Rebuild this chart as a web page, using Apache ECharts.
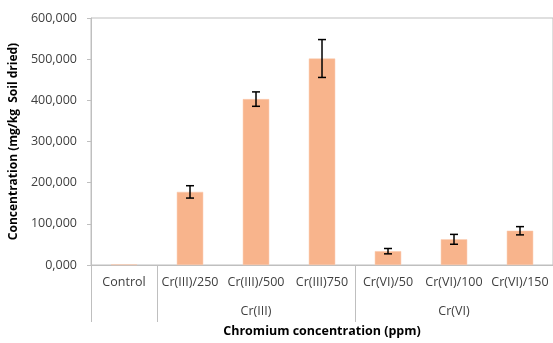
<!DOCTYPE html>
<html>
<head>
<meta charset="utf-8">
<script src="https://cdn.jsdelivr.net/npm/echarts@6/dist/echarts.min.js"></script>
<style>
  html, body { margin: 0; padding: 0; background: #fff; }
  #main { width: 553px; height: 343px; }
</style>
</head>
<body>
<div id="main"></div>
<script>
// 数据
var categories = ['Control', 'Cr(III)/250', 'Cr(III)/500', 'Cr(III)750', 'Cr(VI)/50', 'Cr(VI)/100', 'Cr(VI)/150'];
var groupLabels = ['', '', 'Cr(III)', '', '', 'Cr(VI)', ''];
var groupStarts = [0, 1, 4];
var values = [1500, 177600, 403000, 501600, 33600, 62400, 83200];
var errors = [0, 15000, 17500, 46000, 6500, 12000, 10000];
var yTicks = [0, 100000, 200000, 300000, 400000, 500000, 600000];

var font = '"Open Sans", sans-serif';
var textColor = '#404040';
var lineColor = '#bfbfbf';

var chart = echarts.init(document.getElementById('main'));

var errData = values.map(function (v, i) { return [i, v - errors[i], v + errors[i]]; });

var option = {
  animation: false,
  grid: {
    left: 91, right: -3, top: 18, bottom: 75,
    show: true, borderColor: lineColor, borderWidth: 1
  },
  xAxis: [
    {
      type: 'category',
      data: categories,
      name: 'Chromium concentration (ppm)',
      nameLocation: 'middle',
      nameGap: 60,
      nameTextStyle: { fontFamily: font, fontWeight: 'bold', fontSize: 12.5, color: '#000' },
      axisLine: { lineStyle: { color: lineColor } },
      axisTick: {
        show: true, length: 57,
        interval: function (idx) { return groupStarts.indexOf(idx) >= 0; },
        lineStyle: { color: lineColor }
      },
      axisLabel: { interval: 0, margin: 11, fontFamily: font, fontSize: 12.5, color: textColor }
    },
    {
      type: 'category',
      data: groupLabels,
      position: 'bottom',
      offset: 29,
      axisLine: { show: false },
      axisTick: { show: false },
      axisLabel: { interval: 0, margin: 11, fontFamily: font, fontSize: 12.5, color: textColor }
    }
  ],
  yAxis: {
    type: 'value',
    min: yTicks[0],
    max: yTicks[yTicks.length - 1],
    interval: 100000,
    name: 'Concentration (mg/kg  Soil dried)',
    nameLocation: 'middle',
    nameGap: 66,
    nameTextStyle: { fontFamily: font, fontWeight: 'bold', fontSize: 12, color: '#000' },
    axisLine: { show: true, lineStyle: { color: lineColor } },
    axisTick: { show: true, length: 4, inside: false, lineStyle: { color: lineColor } },
    splitLine: { show: false },
    axisLabel: {
      margin: 14, fontFamily: font, fontSize: 12.5, color: textColor,
      formatter: function (v) { return (v / 1000).toFixed(3).replace('.', ','); }
    }
  },
  series: [
    {
      type: 'bar',
      data: values,
      barWidth: '40%',
      itemStyle: { color: '#F8B48C', borderColor: '#FBC9AC', borderWidth: 0.5 }
    },
    {
      type: 'custom',
      data: errData,
      z: 10,
      renderItem: function (params, api) {
        if (api.value(2) - api.value(1) <= 0) return null;
        var lo = api.coord([api.value(0), api.value(1)]);
        var hi = api.coord([api.value(0), api.value(2)]);
        var w = 4;
        var st = { stroke: '#000', lineWidth: 1.5 };
        return {
          type: 'group',
          children: [
            { type: 'line', shape: { x1: hi[0], y1: hi[1], x2: lo[0], y2: lo[1] }, style: st },
            { type: 'line', shape: { x1: hi[0] - w, y1: hi[1], x2: hi[0] + w, y2: hi[1] }, style: st },
            { type: 'line', shape: { x1: lo[0] - w, y1: lo[1], x2: lo[0] + w, y2: lo[1] }, style: st }
          ]
        };
      }
    }
  ]
};

chart.setOption(option);
</script>
</body>
</html>
